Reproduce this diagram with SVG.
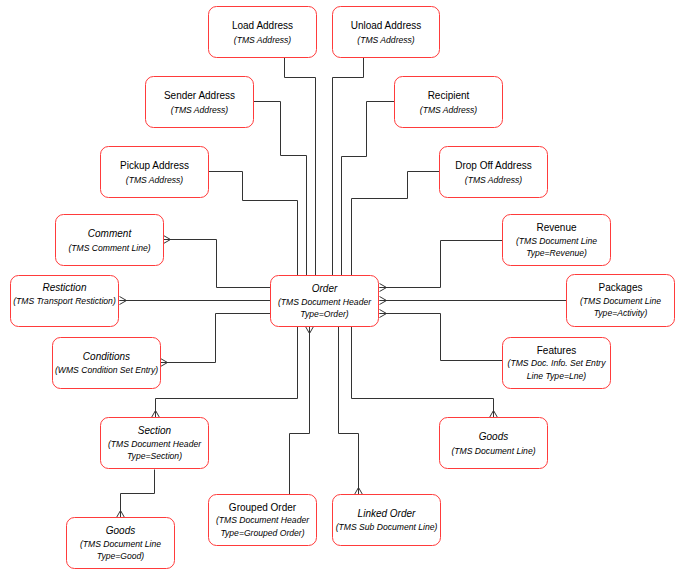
<svg xmlns="http://www.w3.org/2000/svg" width="686" height="579" viewBox="0 0 686 579">
<style>
.n rect{fill:#fff;stroke:#ff3b3b;stroke-width:1}
text{font-family:"Liberation Sans",Arial,sans-serif;fill:#000;text-anchor:middle}
.t{font-size:10px}
.i{font-style:italic}
.s{font-size:8.6px;font-style:italic}
.c path{fill:none;stroke:#333;stroke-width:1}
.m{marker-end:url(#many)}
</style>
<defs>
<marker id="many" markerUnits="userSpaceOnUse" viewBox="-9 -6 10 12" refX="0" refY="0" markerWidth="10" markerHeight="12" orient="auto">
<path d="M-7,0 L0,-4 M-7,0 L0,0 M-7,0 L0,4" fill="none" stroke="#333" stroke-width="1"/>
</marker>
</defs>
<rect width="686" height="579" fill="#fff"/>
<g id="connectors" class="c">
<path d="M284.5,57 V77.5 H315.5 V275"/>
<path d="M363.5,57 V77.5 H332.5 V275"/>
<path d="M253,101.5 H280.5 V155.5 H306.5 V275"/>
<path d="M394,101.5 H366.5 V156.5 H341.5 V275"/>
<path d="M209,171.5 H242.5 V200.5 H297.5 V275"/>
<path d="M439,171.5 H407.5 V198.5 H351.5 V275"/>
<path class="m" d="M270,287.5 H216.5 V239.5 H163.5"/>
<path class="m" d="M270,300.5 H119.5"/>
<path class="m" d="M270,313.5 H215.5 V362.5 H160.5"/>
<path class="m" d="M502,240.5 H440.5 V287.5 H379.5"/>
<path class="m" d="M566,300.5 H379.5"/>
<path class="m" d="M502,360.5 H440.5 V313.5 H379.5"/>
<path class="m" d="M297.5,326.5 V398.5 H155.5 V417.5"/>
<path class="m" d="M289.5,494.5 V433.5 H309.5 V326.5"/>
<path class="m" d="M338.5,326.5 V433.5 H358.5 V494.5"/>
<path class="m" d="M351.5,326.5 V398.5 H493.5 V417.5"/>
<path class="m" d="M154.5,469.5 V493.5 H120.5 V517.5"/>
</g>
<g id="load" class="n"><rect x="208.5" y="6.5" width="108" height="51" rx="8"/><text class="t" x="262.5" y="29">Load Address</text><text class="s" x="262.5" y="42.5">(TMS Address)</text></g>
<g id="unload" class="n"><rect x="332.5" y="6.5" width="107" height="51" rx="8"/><text class="t" x="386" y="29">Unload Address</text><text class="s" x="386" y="42.5">(TMS Address)</text></g>
<g id="sender" class="n"><rect x="145.5" y="76.5" width="108" height="51" rx="8"/><text class="t" x="199.5" y="99">Sender Address</text><text class="s" x="199.5" y="112.5">(TMS Address)</text></g>
<g id="recipient" class="n"><rect x="394.5" y="76.5" width="108" height="51" rx="8"/><text class="t" x="448.5" y="99">Recipient</text><text class="s" x="448.5" y="112.5">(TMS Address)</text></g>
<g id="pickup" class="n"><rect x="100.5" y="146.5" width="108" height="51" rx="8"/><text class="t" x="154.5" y="169">Pickup Address</text><text class="s" x="154.5" y="182.5">(TMS Address)</text></g>
<g id="dropoff" class="n"><rect x="439.5" y="146.5" width="108" height="51" rx="8"/><text class="t" x="493.5" y="169">Drop Off Address</text><text class="s" x="493.5" y="182.5">(TMS Address)</text></g>
<g id="comment" class="n"><rect x="55.5" y="214.5" width="108" height="51" rx="8"/><text class="t i" x="109.5" y="237">Comment</text><text class="s" x="109.5" y="250.5">(TMS Comment Line)</text></g>
<g id="revenue" class="n"><rect x="502.5" y="214.5" width="108" height="51" rx="8"/><text class="t" x="556.5" y="231">Revenue</text><text class="s" x="556.5" y="243.5">(TMS Document Line</text><text class="s" x="556.5" y="256">Type=Revenue)</text></g>
<g id="order" class="n"><rect x="270.5" y="275.5" width="108" height="51" rx="8"/><text class="t i" x="324.5" y="292">Order</text><text class="s" x="324.5" y="304.5">(TMS Document Header</text><text class="s" x="324.5" y="317">Type=Order)</text></g>
<g id="restiction" class="n"><rect x="10.5" y="275.5" width="108" height="51" rx="8"/><text class="t i" x="64.5" y="291">Restiction</text><text class="s" x="64.5" y="304">(TMS Transport Restiction)</text></g>
<g id="conditions" class="n"><rect x="52.5" y="337.5" width="108" height="51" rx="8"/><text class="t i" x="106.5" y="360">Conditions</text><text class="s" x="106.5" y="373">(WMS Condition Set Entry)</text></g>
<g id="packages" class="n"><rect x="566.5" y="274.5" width="108" height="52" rx="8"/><text class="t" x="620.5" y="291">Packages</text><text class="s" x="620.5" y="303.5">(TMS Document Line</text><text class="s" x="620.5" y="316">Type=Activity)</text></g>
<g id="features" class="n"><rect x="502.5" y="337.5" width="108" height="51" rx="8"/><text class="t" x="556.5" y="354">Features</text><text class="s" x="556.5" y="366">(TMS Doc. Info. Set Entry</text><text class="s" x="556.5" y="379">Line Type=Lne)</text></g>
<g id="goods-line" class="n"><rect x="439.5" y="417.5" width="108" height="51" rx="8"/><text class="t i" x="493.5" y="440">Goods</text><text class="s" x="493.5" y="453.5">(TMS Document Line)</text></g>
<g id="section" class="n"><rect x="100.5" y="417.5" width="108" height="51" rx="8"/><text class="t i" x="154.5" y="434">Section</text><text class="s" x="154.5" y="446.5">(TMS Document Header</text><text class="s" x="154.5" y="459">Type=Section)</text></g>
<g id="goods-good" class="n"><rect x="66.5" y="517.5" width="108" height="51" rx="8"/><text class="t i" x="120.5" y="534">Goods</text><text class="s" x="120.5" y="546.5">(TMS Document Line</text><text class="s" x="120.5" y="558.5">Type=Good)</text></g>
<g id="grouped" class="n"><rect x="208.5" y="494.5" width="108" height="51" rx="8"/><text class="t" x="262.5" y="511">Grouped Order</text><text class="s" x="262.5" y="523">(TMS Document Header</text><text class="s" x="262.5" y="535.5">Type=Grouped Order)</text></g>
<g id="linked" class="n"><rect x="332.5" y="494.5" width="108" height="51" rx="8"/><text class="t i" x="386.5" y="517">Linked Order</text><text class="s" x="386.5" y="529.5">(TMS Sub Document Line)</text></g>
</svg>
